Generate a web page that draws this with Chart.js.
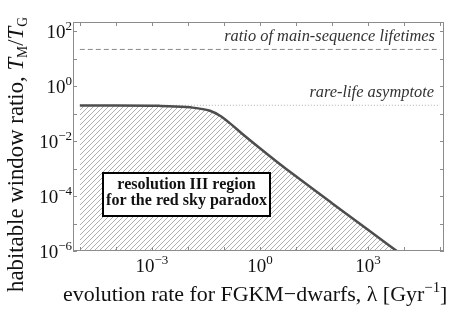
<!DOCTYPE html>
<html>
<head>
<meta charset="utf-8">
<script src="https://cdn.jsdelivr.net/npm/chart.js@4.4.0/dist/chart.umd.min.js"></script>
<style>
  html, body { margin: 0; padding: 0; background: #fff; }
  #wrap { width: 458px; height: 314px; }
</style>
</head>
<body>
<div id="wrap"><canvas id="grafica" width="458" height="314"></canvas></div>
<script>
// curve: habitable window ratio vs evolution rate
const lambda = [1e-5, 1e-4, 1e-3, 0.0017, 0.0115, 0.041, 0.078, 0.148, 0.34, 1, 2.95, 10, 100, 1000, 6300];
const ratio  = [0.195, 0.195, 0.194, 0.19, 0.168, 0.126, 0.083, 0.044, 0.0174, 0.0055, 0.00178, 5.2e-4, 5.5e-5, 5.9e-6, 1e-6];

// horizontal reference levels
const refX = [1e-5, 1e5];
const lifetimeRatio = 21.5;
const rareLife = 0.2;

// tick exponents
const xLabelExp = [-3, 0, 3];
const yLabelExp = [2, 0, -2, -4, -6];
const xTickExp = [-5, -4, -3, -2, -1, 0, 1, 2, 3, 4, 5];
const yTickExp = [-6, -5, -4, -3, -2, -1, 0, 1, 2];

const SERIF = '"Liberation Serif", "DejaVu Serif", serif';

// hatch pattern for the shaded region
const pc = document.createElement('canvas');
pc.width = 5; pc.height = 5;
const pctx = pc.getContext('2d');
pctx.strokeStyle = '#9a9a9a';
pctx.lineWidth = 0.8;
pctx.beginPath();
pctx.moveTo(0, 5); pctx.lineTo(5, 0);
pctx.moveTo(-1, 1); pctx.lineTo(1, -1);
pctx.moveTo(4, 6); pctx.lineTo(6, 4);
pctx.stroke();
const hatch = pctx.createPattern(pc, 'repeat');

// rich text: list of segments {t, size, style, dy}
function richWidth(ctx, segs) {
  let w = 0;
  for (const s of segs) {
    ctx.font = `${s.style || ''} ${s.size}px ${SERIF}`;
    w += ctx.measureText(s.t).width;
  }
  return w;
}
function drawRich(ctx, segs, x, y, align) {
  const w = richWidth(ctx, segs);
  let cx = x;
  if (align === 'center') cx = x - w / 2;
  if (align === 'right') cx = x - w;
  ctx.textAlign = 'left';
  ctx.textBaseline = 'alphabetic';
  for (const s of segs) {
    ctx.font = `${s.style || ''} ${s.size}px ${SERIF}`;
    ctx.fillText(s.t, cx, y + (s.dy || 0));
    cx += ctx.measureText(s.t).width;
  }
  return w;
}
function fitSize(ctx, style, text, target) {
  ctx.font = `${style} 20px ${SERIF}`;
  return 20 * target / ctx.measureText(text).width;
}
function supLabel(e) {
  const sign = e < 0 ? '\u2212' : '';
  return [
    { t: '10', size: 19 },
    { t: sign + Math.abs(e), size: 13, dy: -8 }
  ];
}

const decor = {
  id: 'decor',
  afterDraw(chart) {
    const ctx = chart.ctx;
    const a = chart.chartArea;
    const xs = chart.scales.x, ys = chart.scales.y;
    ctx.save();

    // frame
    ctx.strokeStyle = '#8c8c8c';
    ctx.lineWidth = 1;
    ctx.strokeRect(a.left + 0.5, a.top + 0.5, a.right - a.left - 1, a.bottom - a.top - 1);

    // inward ticks
    ctx.beginPath();
    for (const e of xTickExp) {
      const px = Math.round(xs.getPixelForValue(Math.pow(10, e))) + 0.5;
      ctx.moveTo(px, a.bottom); ctx.lineTo(px, a.bottom - 4);
      ctx.moveTo(px, a.top); ctx.lineTo(px, a.top + 4);
    }
    for (const e of yTickExp) {
      const py = Math.round(ys.getPixelForValue(Math.pow(10, e))) + 0.5;
      ctx.moveTo(a.left, py); ctx.lineTo(a.left + 4, py);
      ctx.moveTo(a.right, py); ctx.lineTo(a.right - 4, py);
    }
    ctx.stroke();

    // tick labels
    ctx.fillStyle = '#111';
    for (const e of xLabelExp) {
      drawRich(ctx, supLabel(e), xs.getPixelForValue(Math.pow(10, e)), a.bottom + 21, 'center');
    }
    for (const e of yLabelExp) {
      drawRich(ctx, supLabel(e), a.left - 1, ys.getPixelForValue(Math.pow(10, e)) + 7, 'right');
    }

    // axis titles
    const xMain = 'evolution rate for FGKM\u2212dwarfs, \u03bb [Gyr';
    let ts = fitSize(ctx, '', xMain + '\u22121]', 392);
    drawRich(ctx, [
      { t: xMain, size: ts },
      { t: '\u22121', size: ts * 0.68, dy: -ts * 0.42 },
      { t: ']', size: ts }
    ], 63, 301, 'left');

    ctx.save();
    ctx.translate(23, 292);
    ctx.rotate(-Math.PI / 2);
    drawRich(ctx, [
      { t: 'habitable window ratio, ', size: ts * 1.04 },
      { t: 'T', size: ts * 1.04, style: 'italic' },
      { t: 'M', size: ts * 0.62, dy: ts * 0.18 },
      { t: '/', size: ts * 1.04 },
      { t: 'T', size: ts * 1.04, style: 'italic' },
      { t: 'G', size: ts * 0.62, dy: ts * 0.18 }
    ], 0, 0, 'left');
    ctx.restore();

    // labels of reference lines
    const t1 = 'ratio of main-sequence lifetimes';
    const ls = fitSize(ctx, 'italic', t1, 211);
    ctx.fillStyle = '#333';
    drawRich(ctx, [{ t: t1, size: ls, style: 'italic' }], a.right - 9, ys.getPixelForValue(lifetimeRatio) - 8, 'right');
    drawRich(ctx, [{ t: 'rare-life asymptote', size: ls, style: 'italic' }], a.right - 10, ys.getPixelForValue(rareLife) - 8, 'right');

    // region box
    ctx.fillStyle = '#fff';
    ctx.fillRect(103, 173, 167, 43);
    ctx.strokeStyle = '#000';
    ctx.lineWidth = 2;
    ctx.strokeRect(103, 173, 167, 43);
    const b2 = 'for the red sky paradox';
    const bs = fitSize(ctx, 'bold', b2, 161);
    ctx.fillStyle = '#111';
    drawRich(ctx, [{ t: 'resolution III region', size: bs, style: 'bold' }], 186.5, 189, 'center');
    drawRich(ctx, [{ t: b2, size: bs, style: 'bold' }], 186.5, 205, 'center');

    ctx.restore();
  }
};

new Chart(document.getElementById('grafica').getContext('2d'), {
  type: 'line',
  data: {
    datasets: [
      {
        label: 'rare-life asymptote',
        data: refX.map(x => ({ x: x, y: rareLife })),
        borderColor: '#b0b0b0',
        borderWidth: 1,
        borderDash: [1, 2],
        pointRadius: 0,
        fill: false,
        order: 3
      },
      {
        label: 'ratio of main-sequence lifetimes',
        data: refX.map(x => ({ x: x, y: lifetimeRatio })),
        borderColor: '#8a8a8a',
        borderWidth: 1,
        borderDash: [5, 3],
        pointRadius: 0,
        fill: false,
        order: 2
      },
      {
        label: 'habitable window ratio',
        data: lambda.map((x, i) => ({ x: x, y: ratio[i] })),
        borderColor: '#4d4d4d',
        borderWidth: 2.5,
        backgroundColor: hatch,
        fill: 'start',
        pointRadius: 0,
        cubicInterpolationMode: 'monotone',
        order: 1
      }
    ]
  },
  options: {
    responsive: false,
    animation: false,
    layout: { padding: { left: 73, right: 14, top: 22, bottom: 63 } },
    plugins: { legend: { display: false }, tooltip: { enabled: false } },
    scales: {
      x: { type: 'logarithmic', display: false, bounds: 'data', min: 6.46e-6, max: 1.29e5 },
      y: { type: 'logarithmic', display: false, bounds: 'data', min: 1e-6, max: 214 }
    }
  },
  plugins: [decor]
});
</script>
</body>
</html>
